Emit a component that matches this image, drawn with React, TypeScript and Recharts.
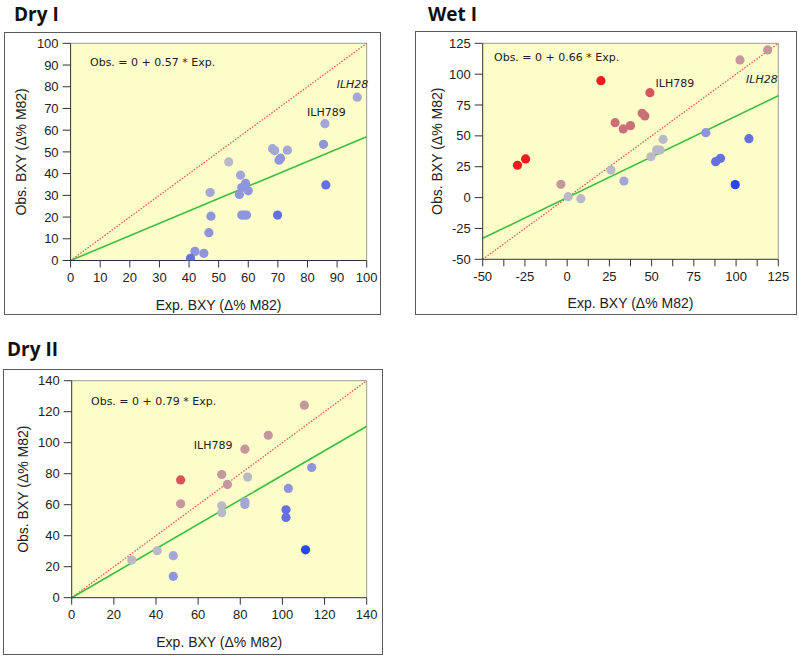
import {
  ScatterChart,
  Scatter,
  XAxis,
  YAxis,
  CartesianGrid,
  ReferenceLine,
  ReferenceDot,
} from "recharts";

// tone of each point: 4 = strongest red, 0 = grey, -4 = strongest blue
const toneColors: Record<number, string> = {
  4: "#ee1c1c",
  3: "#d8545a",
  2: "#cc7078",
  1: "#c4979e",
  0: "#b9b9c8",
  "-1": "#a3a6d6",
  "-2": "#8e95dc",
  "-3": "#6470e2",
  "-4": "#2a46f2",
};

// Dry I
const dry1X = [96.8, 85.9, 85.4, 86.2, 68.2, 68.9, 73.2, 70.4, 70.9, 69.9, 53.4, 57.4, 59.1, 57.8, 60.0, 57.0, 57.8, 58.6, 59.4, 47.1, 47.4, 46.7, 42.0, 45.0, 40.5];
const dry1Y = [75.2, 63.0, 53.5, 34.8, 51.5, 50.6, 50.8, 46.2, 47.1, 20.9, 45.4, 39.3, 35.5, 33.6, 32.1, 30.4, 20.9, 20.9, 20.9, 31.3, 20.4, 12.8, 4.2, 3.3, 1.0];
const dry1Tone = [-1, -1, -2, -3, -1, -1, -1, -2, -2, -3, 0, -1, -2, -2, -2, -2, -2, -2, -2, -1, -2, -2, -2, -2, -3];
const dry1Ticks = [0, 10, 20, 30, 40, 50, 60, 70, 80, 90, 100];
const dry1Slope = 0.57;

// Wet I
const wet1X = [20.0, -29.4, -24.6, -3.7, 0.6, 8.1, 25.9, 33.6, 28.4, 33.2, 37.5, 49.0, 44.4, 46.0, 56.8, 53.0, 55.0, 49.6, 82.1, 87.9, 90.8, 107.6, 99.5, 102.3, 118.7];
const wet1Y = [94.7, 26.2, 31.3, 10.8, 0.7, -0.9, 22.4, 13.4, 60.7, 55.6, 58.3, 85.0, 68.3, 66.1, 47.2, 38.6, 38.5, 33.1, 52.6, 29.1, 31.8, 47.7, 10.5, 111.5, 119.6];
const wet1Tone = [4, 4, 4, 1, 0, 0, 0, -1, 2, 2, 2, 3, 2, 2, 0, 0, 0, 0, -2, -3, -3, -3, -4, 1, 1];
const wet1XTicks = [-50, -37.5, -25, -12.5, 0, 12.5, 25, 37.5, 50, 62.5, 75, 87.5, 100, 112.5, 125];
const wet1YTicks = [-50, -25, 0, 25, 50, 75, 100, 125];
const wet1Slope = 0.66;

// Dry II
const dry2X = [51.7, 51.7, 28.5, 40.6, 48.2, 48.2, 110.4, 93.3, 82.2, 71.2, 73.9, 83.5, 71.2, 71.2, 82.2, 82.2, 113.9, 102.8, 101.7, 101.7, 111.0];
const dry2Y = [76.0, 60.6, 24.3, 30.3, 27.1, 13.8, 124.2, 104.8, 95.8, 79.5, 73.1, 77.8, 59.3, 54.8, 61.9, 60.2, 84.0, 70.5, 56.7, 51.8, 30.9];
const dry2Tone = [3, 1, 0, 0, -1, -2, 1, 1, 1, 1, 1, 0, 0, 0, -1, -1, -2, -2, -3, -3, -4];
const dry2Ticks = [0, 20, 40, 60, 80, 100, 120, 140];
const dry2Slope = 0.79;

const xTitle = "Exp. BXY (\u0394% M82)";
const yTitle = "Obs. BXY (\u0394% M82)";

const YW = 50;
const XH = 50;
const tickFont = { fontFamily: "'Liberation Sans', Arial, sans-serif", fontSize: 13, fill: "#222" };
const noteFont = "'DejaVu Sans', Verdana, sans-serif";

type Note = { text: string; x: number; y: number; italic?: boolean };

type PanelProps = {
  title: string;
  titleLeft: number;
  titleTop: number;
  box: { left: number; top: number; w: number; h: number };
  plot: { left: number; top: number; right: number; bottom: number };
  xs: number[];
  ys: number[];
  tones: number[];
  xTicks: number[];
  yTicks: number[];
  slope: number;
  eq: { left: number; cy: number };
  notes: Note[];
  yLabelOffset: number;
  xLabelEvery?: number;
};

function Dot(props: any) {
  const { cx, cy, payload } = props;
  return <circle cx={cx} cy={cy} r={4.6} fill={toneColors[payload.tone]} />;
}

function Panel(p: PanelProps) {
  const pts = p.xs.map((x, i) => ({ x, y: p.ys[i], tone: p.tones[i] }));
  const xMin = p.xTicks[0];
  const xMax = p.xTicks[p.xTicks.length - 1];
  const yMin = p.yTicks[0];
  const yMax = p.yTicks[p.yTicks.length - 1];
  const margin = {
    top: p.plot.top - p.box.top,
    right: p.box.left + p.box.w - p.plot.right,
    left: p.plot.left - p.box.left - YW,
    bottom: p.box.top + p.box.h - p.plot.bottom - XH,
  };
  const every = p.xLabelEvery;
  return (
    <>
      <div
        style={{
          position: "absolute",
          left: p.titleLeft,
          top: p.titleTop,
          fontFamily: "'Open Sans', sans-serif",
          fontWeight: 700,
          fontSize: 19,
          lineHeight: "19px",
          color: "#111",
          whiteSpace: "nowrap",
        }}
      >
        {p.title}
      </div>
      <div
        style={{
          position: "absolute",
          left: p.box.left,
          top: p.box.top,
          width: p.box.w,
          height: p.box.h,
          border: "1.5px solid #5a5a5a",
          boxSizing: "border-box",
        }}
      />
      <div style={{ position: "absolute", left: p.box.left, top: p.box.top }}>
        <ScatterChart width={p.box.w} height={p.box.h} margin={margin}>
          <CartesianGrid horizontal={false} vertical={false} fill="#fdfdc9" />
          <XAxis
            type="number"
            dataKey="x"
            domain={[xMin, xMax]}
            ticks={p.xTicks}
            interval={0}
            allowDataOverflow
            height={XH}
            stroke="#333"
            tickSize={7}
            tickMargin={5}
            tick={tickFont}
            tickFormatter={(v: number) => (every && v % every !== 0 ? "" : String(v))}
            label={{
              value: xTitle,
              position: "insideBottom",
              offset: 1,
              style: { fontFamily: "'Liberation Sans', Arial, sans-serif", fontSize: 14, fill: "#222" },
            }}
          />
          <YAxis
            type="number"
            dataKey="y"
            domain={[yMin, yMax]}
            ticks={p.yTicks}
            interval={0}
            allowDataOverflow
            width={YW}
            stroke="#333"
            tickSize={8}
            tickMargin={4}
            tick={tickFont}
            label={{
              value: yTitle,
              angle: -90,
              position: "insideLeft",
              offset: p.yLabelOffset,
              style: { textAnchor: "middle", fontFamily: "'Liberation Sans', Arial, sans-serif", fontSize: 14, fill: "#222" },
            }}
          />
          <ReferenceLine y={yMax} stroke="#9a9a9a" />
          <ReferenceLine x={xMax} stroke="#9a9a9a" />
          <ReferenceLine
            segment={[
              { x: xMin, y: xMin },
              { x: xMax, y: xMax },
            ]}
            stroke="#e0504c"
            strokeWidth={1.2}
            strokeDasharray="1.5 1.5"
          />
          <ReferenceLine
            segment={[
              { x: xMin, y: p.slope * xMin },
              { x: xMax, y: p.slope * xMax },
            ]}
            stroke="#3cbf3c"
            strokeWidth={1.6}
          />
          <Scatter data={pts} shape={Dot} isAnimationActive={false} />
          {p.notes.map((n) => (
            <ReferenceDot
              key={n.text}
              x={n.x}
              y={n.y}
              r={1}
              fill="none"
              stroke="none"
              label={{
                value: n.text,
                position: "center",
                style: {
                  fontFamily: noteFont,
                  fontSize: 11,
                  fontStyle: n.italic ? "italic" : "normal",
                  fill: "#222",
                },
              }}
            />
          ))}
        </ScatterChart>
      </div>
      <div
        style={{
          position: "absolute",
          left: p.eq.left,
          top: p.eq.cy - 7,
          fontFamily: noteFont,
          fontSize: 11,
          lineHeight: "14px",
          color: "#222",
          whiteSpace: "nowrap",
        }}
      >
        {`Obs. = 0 + ${p.slope.toFixed(2)} * Exp.`}
      </div>
    </>
  );
}

export default function App() {
  return (
    <div style={{ position: "absolute", left: 0, top: 0, width: 799, height: 658, background: "#fff" }}>
      <Panel
        title="Dry I"
        titleLeft={14}
        titleTop={4.5}
        box={{ left: 4, top: 32, w: 377, h: 283 }}
        plot={{ left: 70.6, top: 43.3, right: 366.7, bottom: 260.5 }}
        xs={dry1X}
        ys={dry1Y}
        tones={dry1Tone}
        xTicks={dry1Ticks}
        yTicks={dry1Ticks}
        slope={dry1Slope}
        eq={{ left: 90, cy: 63 }}
        notes={[
          { text: "ILH789", x: 86.4, y: 68.2 },
          { text: "ILH28", x: 95.2, y: 81, italic: true },
        ]}
        yLabelOffset={0}
      />
      <Panel
        title="Wet I"
        titleLeft={428}
        titleTop={4.5}
        box={{ left: 415, top: 31, w: 382, h: 284 }}
        plot={{ left: 482.7, top: 43.3, right: 778.3, bottom: 259.3 }}
        xs={wet1X}
        ys={wet1Y}
        tones={wet1Tone}
        xTicks={wet1XTicks}
        yTicks={wet1YTicks}
        slope={wet1Slope}
        eq={{ left: 494, cy: 58 }}
        notes={[
          { text: "ILH789", x: 63.8, y: 92.9 },
          { text: "ILH28", x: 115.3, y: 96.1, italic: true },
        ]}
        yLabelOffset={4}
        xLabelEvery={25}
      />
      <Panel
        title="Dry II"
        titleLeft={7}
        titleTop={339.7}
        box={{ left: 3, top: 369, w: 380, h: 286 }}
        plot={{ left: 71.7, top: 380.7, right: 366.7, bottom: 597.7 }}
        xs={dry2X}
        ys={dry2Y}
        tones={dry2Tone}
        xTicks={dry2Ticks}
        yTicks={dry2Ticks}
        slope={dry2Slope}
        eq={{ left: 91, cy: 402 }}
        notes={[{ text: "ILH789", x: 67.1, y: 98.4 }]}
        yLabelOffset={1.3}
      />
    </div>
  );
}
